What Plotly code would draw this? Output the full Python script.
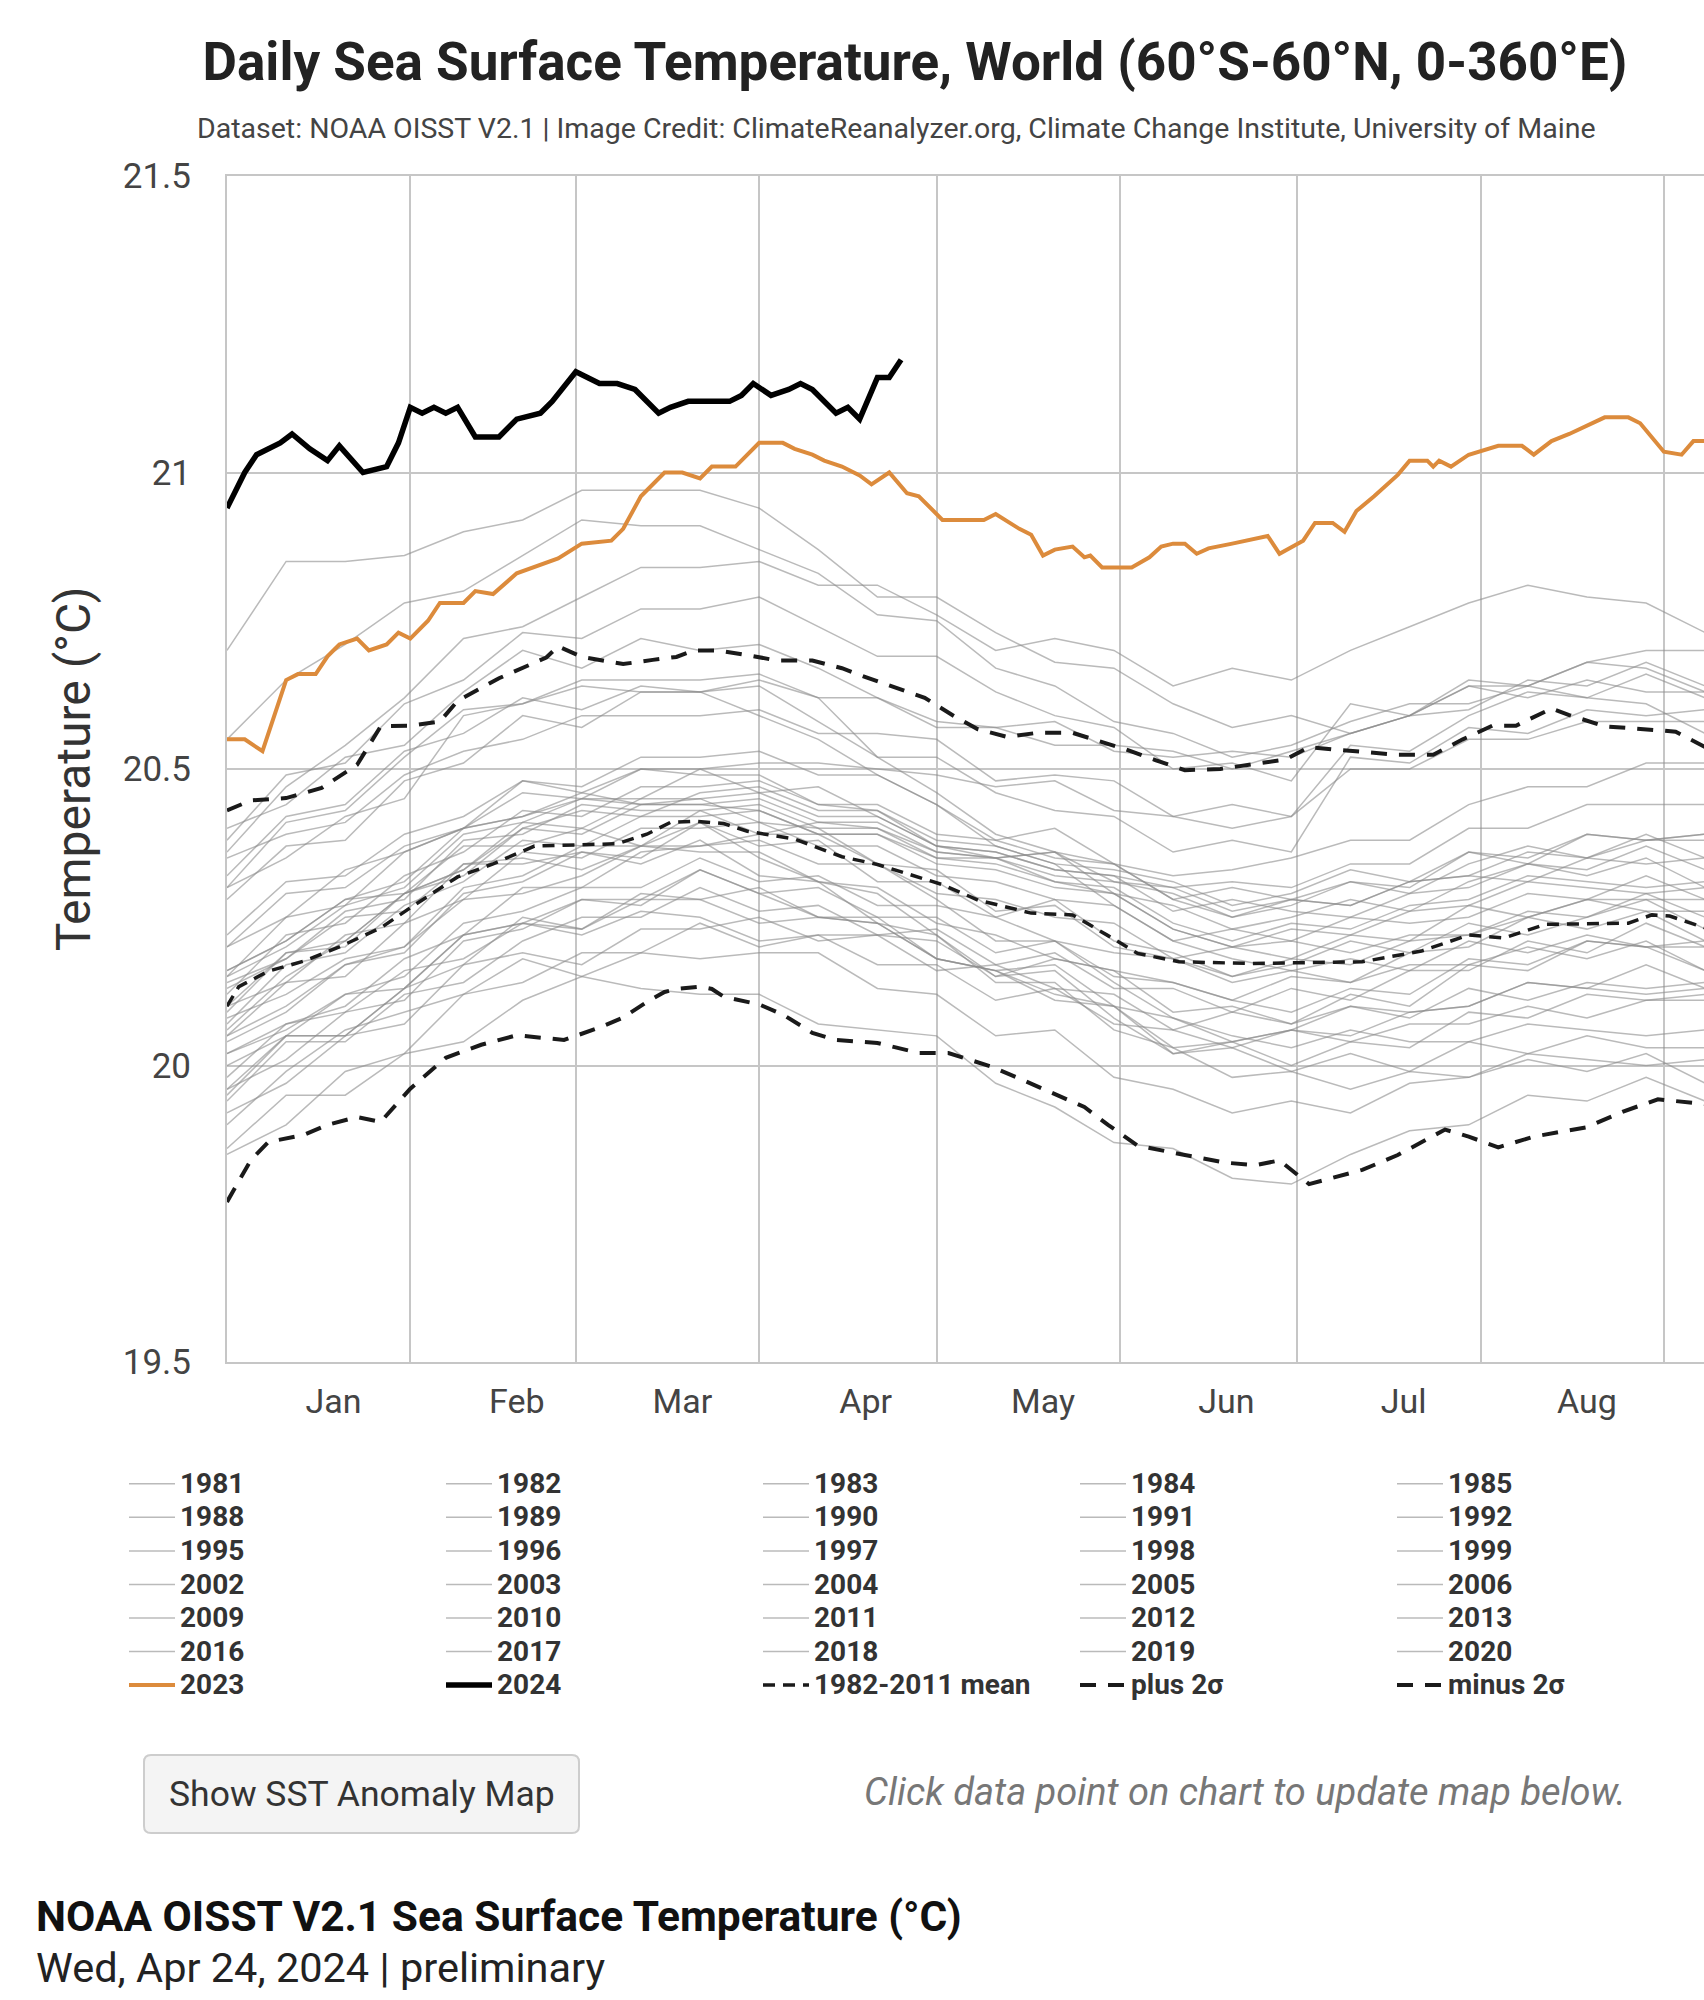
import pandas as pd
import plotly.graph_objects as go

# ---------------- data ----------------
month_names = ["Jan", "Feb", "Mar", "Apr", "May", "Jun", "Jul", "Aug"]

sample_days = [1, 11, 21, 31, 41, 51, 61, 71, 81, 91, 101, 111, 121,
               131, 141, 151, 161, 171, 181, 191, 201, 211, 221, 231, 241, 251]

sst_1981 = []
sst_1982 = [20.02, 20.07, 20.09, 20.16, 20.18, 20.24, 20.22, 20.26, 20.25, 20.21, 20.22, 20.22, 20.21, 20.15, 20.18, 20.16, 20.14, 20.11, 20.15, 20.14, 20.19, 20.20, 20.25, 20.28, 20.28, 20.28]
sst_1983 = [20.20, 20.25, 20.33, 20.36, 20.40, 20.42, 20.46, 20.44, 20.45, 20.41, 20.40, 20.34, 20.28, 20.21, 20.21, 20.14, 20.08, 20.05, 20.03, 20.06, 20.04, 20.04, 20.07, 20.06, 20.05, 20.06]
sst_1984 = [19.90, 19.99, 20.06, 20.09, 20.12, 20.18, 20.15, 20.19, 20.18, 20.19, 20.19, 20.13, 20.12, 20.05, 20.06, 19.98, 19.96, 19.92, 19.94, 19.92, 19.97, 19.98, 20.02, 20.01, 20.00, 20.01]
sst_1985 = [19.86, 19.95, 19.95, 20.02, 20.04, 20.11, 20.15, 20.13, 20.12, 20.12, 20.07, 20.06, 20.05, 19.97, 19.93, 19.87, 19.86, 19.81, 19.80, 19.85, 19.89, 19.90, 19.95, 19.94, 19.98, 19.94]
sst_1986 = [19.92, 19.97, 20.05, 20.07, 20.17, 20.19, 20.17, 20.23, 20.23, 20.25, 20.21, 20.22, 20.16, 20.17, 20.13, 20.12, 20.06, 20.09, 20.07, 20.12, 20.10, 20.17, 20.16, 20.21, 20.20, 20.21]
sst_1987 = [20.06, 20.15, 20.21, 20.29, 20.32, 20.40, 20.43, 20.42, 20.46, 20.47, 20.43, 20.43, 20.38, 20.37, 20.34, 20.33, 20.31, 20.27, 20.29, 20.33, 20.31, 20.36, 20.34, 20.39, 20.38, 20.39]
sst_1988 = [20.16, 20.21, 20.28, 20.29, 20.37, 20.37, 20.40, 20.37, 20.41, 20.35, 20.31, 20.29, 20.22, 20.15, 20.16, 20.08, 20.02, 20.03, 19.99, 20.02, 19.99, 20.04, 20.02, 20.05, 20.03, 20.03]
sst_1989 = [19.85, 19.90, 19.99, 20.02, 20.12, 20.14, 20.19, 20.19, 20.24, 20.20, 20.22, 20.17, 20.17, 20.11, 20.13, 20.07, 20.06, 20.03, 20.06, 20.05, 20.09, 20.10, 20.14, 20.13, 20.17, 20.13]
sst_1990 = [20.04, 20.09, 20.17, 20.19, 20.29, 20.31, 20.36, 20.35, 20.41, 20.37, 20.38, 20.31, 20.31, 20.25, 20.28, 20.21, 20.19, 20.15, 20.17, 20.21, 20.19, 20.24, 20.22, 20.25, 20.28, 20.23]
sst_1991 = [20.08, 20.12, 20.18, 20.20, 20.28, 20.29, 20.32, 20.37, 20.37, 20.38, 20.34, 20.34, 20.29, 20.28, 20.25, 20.24, 20.18, 20.20, 20.18, 20.22, 20.21, 20.27, 20.25, 20.28, 20.26, 20.26]
sst_1992 = [20.13, 20.18, 20.25, 20.26, 20.34, 20.34, 20.36, 20.34, 20.38, 20.32, 20.31, 20.24, 20.22, 20.14, 20.14, 20.06, 20.03, 19.98, 19.99, 19.96, 19.99, 19.98, 20.01, 19.99, 20.02, 19.97]
sst_1993 = [19.96, 20.01, 20.09, 20.11, 20.21, 20.23, 20.28, 20.27, 20.33, 20.29, 20.25, 20.25, 20.18, 20.16, 20.11, 20.10, 20.02, 20.04, 20.00, 20.04, 20.03, 20.09, 20.08, 20.12, 20.11, 20.12]
sst_1994 = [19.94, 20.04, 20.04, 20.12, 20.14, 20.21, 20.25, 20.25, 20.30, 20.26, 20.27, 20.22, 20.23, 20.17, 20.19, 20.13, 20.13, 20.09, 20.13, 20.11, 20.16, 20.16, 20.21, 20.19, 20.24, 20.20]
sst_1995 = [20.10, 20.14, 20.22, 20.24, 20.34, 20.35, 20.33, 20.37, 20.36, 20.36, 20.31, 20.30, 20.24, 20.22, 20.18, 20.16, 20.09, 20.10, 20.07, 20.10, 20.08, 20.13, 20.11, 20.14, 20.13, 20.14]
sst_1996 = [19.96, 20.05, 20.05, 20.13, 20.17, 20.25, 20.23, 20.29, 20.28, 20.30, 20.25, 20.24, 20.18, 20.16, 20.12, 20.10, 20.03, 20.04, 20.06, 20.04, 20.07, 20.07, 20.10, 20.08, 20.11, 20.11]
sst_1997 = [19.98, 20.07, 20.10, 20.18, 20.22, 20.30, 20.30, 20.36, 20.37, 20.39, 20.39, 20.39, 20.35, 20.35, 20.36, 20.34, 20.32, 20.33, 20.35, 20.38, 20.38, 20.44, 20.47, 20.47, 20.51, 20.51]
sst_1998 = [20.30, 20.41, 20.43, 20.52, 20.60, 20.61, 20.64, 20.63, 20.63, 20.64, 20.58, 20.52, 20.46, 20.39, 20.36, 20.29, 20.23, 20.20, 20.21, 20.19, 20.22, 20.22, 20.25, 20.23, 20.26, 20.21]
sst_1999 = [20.02, 20.06, 20.12, 20.13, 20.22, 20.24, 20.23, 20.28, 20.28, 20.24, 20.25, 20.24, 20.18, 20.16, 20.17, 20.10, 20.08, 20.04, 20.06, 20.10, 20.09, 20.10, 20.14, 20.13, 20.12, 20.13]
sst_2000 = [19.95, 20.05, 20.05, 20.13, 20.22, 20.24, 20.28, 20.28, 20.33, 20.29, 20.30, 20.25, 20.25, 20.19, 20.21, 20.15, 20.14, 20.11, 20.09, 20.13, 20.12, 20.18, 20.17, 20.21, 20.20, 20.16]
sst_2001 = [20.05, 20.14, 20.15, 20.24, 20.28, 20.36, 20.35, 20.40, 20.40, 20.41, 20.37, 20.37, 20.32, 20.31, 20.28, 20.27, 20.21, 20.23, 20.21, 20.25, 20.24, 20.25, 20.29, 20.28, 20.32, 20.28]
sst_2002 = [20.12, 20.22, 20.24, 20.32, 20.36, 20.43, 20.42, 20.47, 20.47, 20.48, 20.44, 20.44, 20.39, 20.38, 20.35, 20.34, 20.28, 20.25, 20.28, 20.27, 20.31, 20.32, 20.36, 20.35, 20.39, 20.35]
sst_2003 = [20.22, 20.31, 20.32, 20.39, 20.42, 20.48, 20.46, 20.50, 20.49, 20.49, 20.44, 20.43, 20.37, 20.35, 20.31, 20.29, 20.27, 20.23, 20.25, 20.28, 20.26, 20.31, 20.34, 20.32, 20.35, 20.30]
sst_2004 = [20.14, 20.18, 20.26, 20.28, 20.38, 20.39, 20.44, 20.43, 20.43, 20.44, 20.40, 20.40, 20.35, 20.34, 20.31, 20.30, 20.24, 20.21, 20.24, 20.23, 20.27, 20.28, 20.32, 20.31, 20.30, 20.31]
sst_2005 = [20.15, 20.25, 20.27, 20.36, 20.40, 20.48, 20.47, 20.52, 20.52, 20.53, 20.49, 20.49, 20.44, 20.38, 20.40, 20.34, 20.28, 20.30, 20.28, 20.27, 20.31, 20.32, 20.31, 20.35, 20.34, 20.35]
sst_2006 = [20.10, 20.19, 20.20, 20.29, 20.33, 20.40, 20.39, 20.44, 20.44, 20.45, 20.41, 20.41, 20.36, 20.35, 20.32, 20.31, 20.29, 20.25, 20.27, 20.31, 20.30, 20.36, 20.35, 20.39, 20.38, 20.39]
sst_2007 = [20.20, 20.29, 20.30, 20.37, 20.40, 20.42, 20.45, 20.44, 20.44, 20.43, 20.39, 20.34, 20.33, 20.26, 20.27, 20.20, 20.18, 20.14, 20.16, 20.14, 20.17, 20.17, 20.20, 20.18, 20.21, 20.16]
sst_2008 = [20.00, 20.05, 20.12, 20.15, 20.24, 20.26, 20.30, 20.30, 20.35, 20.31, 20.32, 20.27, 20.27, 20.25, 20.21, 20.19, 20.18, 20.15, 20.18, 20.17, 20.21, 20.22, 20.26, 20.25, 20.29, 20.25]
sst_2009 = [20.05, 20.10, 20.17, 20.20, 20.30, 20.32, 20.37, 20.37, 20.43, 20.39, 20.41, 20.40, 20.36, 20.35, 20.36, 20.31, 20.30, 20.31, 20.30, 20.34, 20.34, 20.40, 20.40, 20.44, 20.44, 20.44]
sst_2010 = [20.32, 20.42, 20.44, 20.53, 20.56, 20.62, 20.60, 20.64, 20.63, 20.59, 20.55, 20.49, 20.44, 20.37, 20.34, 20.27, 20.21, 20.18, 20.16, 20.18, 20.16, 20.21, 20.19, 20.22, 20.20, 20.20]
sst_2011 = [20.07, 20.17, 20.19, 20.27, 20.31, 20.38, 20.37, 20.42, 20.42, 20.43, 20.39, 20.39, 20.34, 20.33, 20.30, 20.29, 20.23, 20.20, 20.23, 20.22, 20.26, 20.27, 20.31, 20.30, 20.29, 20.30]
sst_2012 = [20.09, 20.19, 20.21, 20.29, 20.33, 20.41, 20.40, 20.45, 20.45, 20.46, 20.42, 20.42, 20.37, 20.36, 20.33, 20.32, 20.30, 20.26, 20.28, 20.31, 20.29, 20.34, 20.37, 20.35, 20.38, 20.38]
sst_2013 = [20.15, 20.20, 20.27, 20.30, 20.39, 20.41, 20.45, 20.45, 20.50, 20.46, 20.47, 20.42, 20.37, 20.36, 20.33, 20.32, 20.26, 20.28, 20.26, 20.25, 20.29, 20.30, 20.34, 20.33, 20.37, 20.33]
sst_2014 = [20.16, 20.21, 20.28, 20.31, 20.40, 20.46, 20.45, 20.50, 20.50, 20.51, 20.51, 20.50, 20.49, 20.47, 20.48, 20.43, 20.42, 20.40, 20.42, 20.50, 20.50, 20.55, 20.55, 20.58, 20.58, 20.58]
sst_2015 = [20.28, 20.37, 20.38, 20.48, 20.51, 20.59, 20.57, 20.63, 20.63, 20.65, 20.62, 20.62, 20.58, 20.57, 20.58, 20.53, 20.52, 20.53, 20.52, 20.56, 20.59, 20.64, 20.64, 20.68, 20.70, 20.70]
sst_2016 = [20.70, 20.85, 20.85, 20.86, 20.90, 20.92, 20.97, 20.97, 20.97, 20.94, 20.87, 20.79, 20.79, 20.73, 20.68, 20.67, 20.61, 20.57, 20.59, 20.56, 20.59, 20.60, 20.65, 20.64, 20.68, 20.64]
sst_2017 = [20.38, 20.49, 20.51, 20.61, 20.65, 20.73, 20.72, 20.77, 20.77, 20.79, 20.74, 20.69, 20.69, 20.63, 20.59, 20.57, 20.50, 20.51, 20.48, 20.61, 20.59, 20.64, 20.62, 20.65, 20.63, 20.63]
sst_2018 = [20.30, 20.35, 20.42, 20.45, 20.59, 20.61, 20.65, 20.65, 20.65, 20.66, 20.62, 20.52, 20.52, 20.46, 20.43, 20.42, 20.36, 20.38, 20.36, 20.52, 20.51, 20.57, 20.56, 20.60, 20.59, 20.60]
sst_2019 = [20.36, 20.47, 20.54, 20.62, 20.72, 20.74, 20.79, 20.84, 20.84, 20.85, 20.81, 20.81, 20.76, 20.70, 20.72, 20.70, 20.64, 20.67, 20.65, 20.70, 20.74, 20.78, 20.81, 20.79, 20.78, 20.73]
sst_2020 = [20.55, 20.65, 20.71, 20.78, 20.80, 20.86, 20.92, 20.91, 20.91, 20.87, 20.83, 20.76, 20.75, 20.67, 20.64, 20.58, 20.56, 20.52, 20.54, 20.58, 20.61, 20.61, 20.64, 20.62, 20.61, 20.56]
sst_2021 = [20.35, 20.39, 20.41, 20.49, 20.53, 20.55, 20.59, 20.59, 20.59, 20.60, 20.56, 20.56, 20.55, 20.48, 20.49, 20.48, 20.42, 20.44, 20.42, 20.54, 20.53, 20.59, 20.63, 20.62, 20.66, 20.62]
sst_2022 = [20.40, 20.44, 20.52, 20.54, 20.63, 20.70, 20.67, 20.72, 20.70, 20.71, 20.67, 20.62, 20.57, 20.57, 20.54, 20.54, 20.53, 20.50, 20.53, 20.56, 20.59, 20.65, 20.64, 20.68, 20.67, 20.63]

days_2023 = [1, 4, 7, 9, 11, 13, 16, 18, 20, 23, 25, 28, 30, 32, 35, 37, 41, 43, 46, 50,
             53, 57, 61, 66, 68, 71, 75, 78, 81, 83, 87, 91, 95, 97, 100, 102, 105, 108, 110, 113,
             116, 118, 122, 129, 131, 135, 137, 139, 141, 144, 146, 147, 149, 154, 157, 159, 161, 163, 165, 167,
             171, 177, 179, 183, 185, 188, 190, 192, 195, 199, 201, 204, 205, 206, 208, 211, 216, 220, 222, 225,
             228, 230, 232, 234, 238, 240, 244, 247, 249, 251]
sst_2023 = [20.55, 20.55, 20.53, 20.59, 20.65, 20.66, 20.66, 20.69, 20.71, 20.72, 20.70, 20.71, 20.73, 20.72, 20.75, 20.78, 20.78, 20.80, 20.795, 20.83,
            20.84, 20.855, 20.88, 20.885, 20.905, 20.96, 21.00, 21.00, 20.99, 21.01, 21.01, 21.05, 21.05, 21.04, 21.03, 21.02, 21.01, 20.995, 20.98, 21.00,
            20.965, 20.96, 20.92, 20.92, 20.93, 20.905, 20.895, 20.86, 20.87, 20.875, 20.857, 20.86, 20.84, 20.84, 20.857, 20.875, 20.88, 20.88, 20.863, 20.872,
            20.88, 20.893, 20.863, 20.885, 20.915, 20.915, 20.90, 20.935, 20.96, 20.996, 21.02, 21.02, 21.01, 21.02, 21.01, 21.03, 21.045, 21.045, 21.03, 21.053,
            21.065, 21.074, 21.083, 21.093, 21.093, 21.083, 21.035, 21.03, 21.053, 21.053]

days_2024 = [1, 4, 6, 8, 10, 12, 15, 18, 20, 24, 28, 30, 32, 34, 36, 38, 40, 43, 47, 50,
             54, 56, 60, 64, 67, 70, 74, 76, 79, 86, 88, 90, 93, 96, 98, 100, 102, 104, 106, 108,
             111, 113, 115]
sst_2024 = [20.94, 21.00, 21.03, 21.04, 21.05, 21.065, 21.04, 21.02, 21.045, 21.00, 21.01, 21.05, 21.11, 21.10, 21.11, 21.10, 21.11, 21.06, 21.06, 21.09,
            21.10, 21.12, 21.17, 21.15, 21.15, 21.14, 21.10, 21.11, 21.12, 21.12, 21.13, 21.15, 21.13, 21.14, 21.15, 21.14, 21.12, 21.10, 21.11, 21.09,
            21.16, 21.16, 21.19]

mean_days = [1, 3, 8, 14, 20, 27, 32, 40, 46, 53, 60, 67, 72, 76, 80, 85, 89, 97, 105, 111,
             122, 128, 137, 144, 150, 155, 162, 174, 193, 203, 211, 217, 224, 238, 242, 245, 251]
mean_sst = [20.10, 20.133, 20.159, 20.176, 20.20, 20.232, 20.266, 20.318, 20.34, 20.37, 20.372, 20.374, 20.39, 20.41, 20.412, 20.408, 20.395, 20.382, 20.352, 20.339,
            20.305, 20.279, 20.257, 20.254, 20.219, 20.189, 20.175, 20.172, 20.175, 20.193, 20.22, 20.215, 20.238, 20.24, 20.254, 20.252, 20.232]

plus_days = [1, 5, 11, 17, 23, 27, 32, 37, 40, 47, 55, 57, 61, 68, 73, 77, 80, 84, 89, 94,
             100, 105, 109, 114, 119, 124, 128, 133, 138, 144, 149, 153, 158, 163, 169, 180, 184, 188, 199, 205,
             210, 215, 219, 225, 228, 234, 246, 251]
plus_sst = [20.43, 20.447, 20.451, 20.468, 20.507, 20.572, 20.573, 20.58, 20.615, 20.653, 20.688, 20.707, 20.689, 20.677, 20.684, 20.689, 20.70, 20.70, 20.692, 20.683,
            20.683, 20.67, 20.655, 20.637, 20.62, 20.589, 20.567, 20.554, 20.561, 20.561, 20.546, 20.533, 20.515, 20.498, 20.50, 20.516, 20.537, 20.533, 20.524, 20.524,
            20.55, 20.573, 20.573, 20.602, 20.591, 20.572, 20.563, 20.537]

minus_days = [1, 5, 8, 14, 18, 23, 27, 32, 38, 44, 50, 58, 64, 68, 72, 75, 77, 81, 83, 85,
              91, 95, 100, 104, 111, 118, 123, 130, 135, 141, 146, 150, 155, 163, 170, 175, 179, 184, 188, 193,
              199, 207, 211, 216, 222, 231, 237, 243, 251]
minus_sst = [19.77, 19.84, 19.871, 19.883, 19.90, 19.913, 19.905, 19.961, 20.013, 20.035, 20.051, 20.043, 20.064, 20.081, 20.107, 20.124, 20.129, 20.133, 20.129, 20.116,
             20.103, 20.086, 20.055, 20.043, 20.038, 20.021, 20.021, 19.999, 19.978, 19.952, 19.93, 19.90, 19.865, 19.849, 19.836, 19.832, 19.84, 19.80, 19.81, 19.824,
             19.849, 19.892, 19.88, 19.862, 19.88, 19.896, 19.922, 19.943, 19.935]

gray_years = list(range(1981, 2023))
gray_series = [sst_1981, sst_1982, sst_1983, sst_1984, sst_1985, sst_1986, sst_1987, sst_1988, sst_1989, sst_1990,
               sst_1991, sst_1992, sst_1993, sst_1994, sst_1995, sst_1996, sst_1997, sst_1998, sst_1999, sst_2000,
               sst_2001, sst_2002, sst_2003, sst_2004, sst_2005, sst_2006, sst_2007, sst_2008, sst_2009, sst_2010,
               sst_2011, sst_2012, sst_2013, sst_2014, sst_2015, sst_2016, sst_2017, sst_2018, sst_2019, sst_2020,
               sst_2021, sst_2022]

# ---------------- helpers ----------------
BASE = pd.Timestamp("2023-01-01")


def to_dates(days):
    return [(BASE + pd.Timedelta(days=d - 1)).strftime("%Y-%m-%d") for d in days]


W, H = 1704, 2000
PL, PR, PT, PB = 227, 1704, 176, 1362


def px_x(x):
    return (x - PL) / (PR - PL)


def px_y(y):
    return (PB - y) / (PB - PT)


legend_order = [str(y) for y in gray_years] + ["2023", "2024", "1982-2011 mean", "plus 2σ", "minus 2σ"]
N_COLS_FULL = 7
N_COLS_SHOWN = 5


def legend_slot(name):
    k = legend_order.index(name)
    col = k % N_COLS_FULL
    key = "legend" if col == 0 else "legend%d" % (col + 1)
    return key, col < N_COLS_SHOWN


def legend_label(name):
    # row spacing follows the legend font size; the label itself is drawn a bit larger
    return "<span style='font-size:28px'>%s</span>" % name


FONT = "Roboto, Arial, sans-serif"
GRID = "#c6c6c6"

fig = go.Figure()

for yr, vals in zip(gray_years, gray_series):
    key, show = legend_slot(str(yr))
    fig.add_trace(go.Scatter(
        x=to_dates(sample_days[:len(vals)]) if vals else [None], y=vals if vals else [None],
        mode="lines", name=legend_label(str(yr)),
        line=dict(color="rgba(140,140,140,0.6)", width=1.5),
        legend=key, showlegend=show, hoverinfo="skip"))

for name, days, vals, dash, width in [
        ("1982-2011 mean", mean_days, mean_sst, "12px,8px", 3.5),
        ("plus 2σ", plus_days, plus_sst, "16px,12px", 4),
        ("minus 2σ", minus_days, minus_sst, "16px,12px", 4)]:
    key, show = legend_slot(name)
    fig.add_trace(go.Scatter(
        x=to_dates(days), y=vals, mode="lines", name=legend_label(name),
        line=dict(color="#1a1a1a", width=width, dash=dash),
        legend=key, showlegend=show, hoverinfo="skip"))

key, show = legend_slot("2023")
fig.add_trace(go.Scatter(x=to_dates(days_2023), y=sst_2023, mode="lines", name=legend_label("2023"),
                         line=dict(color="#DC8B3C", width=4), legend=key, showlegend=show,
                         hoverinfo="skip"))
key, show = legend_slot("2024")
fig.add_trace(go.Scatter(x=to_dates(days_2024), y=sst_2024, mode="lines", name=legend_label("2024"),
                         line=dict(color="#000000", width=5.5), legend=key, showlegend=show,
                         hoverinfo="skip"))

# month label positions (centred a little right of mid-month, as in the reference)
month_tick_pos = [(pd.Timestamp(2023, m, 1) + pd.Timedelta(days=18)).strftime("%Y-%m-%d")
                  for m in range(1, len(month_names) + 1)]

fig.update_layout(
    width=W, height=H,
    margin=dict(l=PL, r=W - PR, t=PT, b=H - PB),
    paper_bgcolor="white", plot_bgcolor="white",
    showlegend=True,
    font=dict(family=FONT, color="#444"),
    title=dict(text="Daily Sea Surface Temperature, World (60°S-60°N, 0-360°E)",
               xref="container", yref="container", x=915 / W, y=1 - 61 / H,
               xanchor="center", yanchor="middle",
               font=dict(family=FONT, size=53, color="#222", weight=700)),
    xaxis=dict(type="date", range=["2023-01-01", "2023-09-07 19:00"],
               tickmode="array", tickvals=month_tick_pos, ticktext=month_names,
               showgrid=False, ticks="",
               minor=dict(dtick="M1", tick0="2023-01-01", showgrid=True,
                          gridcolor=GRID, gridwidth=2, ticks=""),
               showline=True, linecolor=GRID, linewidth=2, mirror=True,
               zeroline=False, automargin=False, ticklabelstandoff=8,
               tickfont=dict(family=FONT, size=34, color="#444")),
    yaxis=dict(range=[19.5, 21.5], tick0=19.5, dtick=0.5,
               showgrid=True, gridcolor=GRID, gridwidth=2, ticks="",
               showline=True, linecolor=GRID, linewidth=2, zeroline=False,
               automargin=False, ticklabelstandoff=27,
               tickfont=dict(family=FONT, size=35, color="#444")),
)
fig.update_yaxes(title=dict(text="Temperature (°C)", standoff=17,
                            font=dict(family=FONT, size=48, color="#333")))

for c in range(N_COLS_SHOWN):
    key = "legend" if c == 0 else "legend%d" % (c + 1)
    fig.update_layout({key: dict(
        x=px_x(124 + 317 * c), xanchor="left",
        y=px_y(1462), yanchor="top",
        orientation="v", bgcolor="rgba(0,0,0,0)", borderwidth=0,
        tracegroupgap=0, traceorder="normal", visible=True, itemwidth=46,
        font=dict(family=FONT, size=23.5, color="#333", weight=700))})

# button (rounded rectangle)
bx0, bx1, by0, by1, r = 144, 579, 1755, 1833, 7
path = ("M {a},{b} L {c},{b} Q {d},{b} {d},{e} L {d},{f} Q {d},{g} {c},{g} "
        "L {a},{g} Q {h},{g} {h},{f} L {h},{e} Q {h},{b} {a},{b} Z").format(
    a=px_x(bx0 + r), c=px_x(bx1 - r), d=px_x(bx1), h=px_x(bx0),
    b=px_y(by0), e=px_y(by0 + r), f=px_y(by1 - r), g=px_y(by1))
fig.add_shape(type="path", xref="paper", yref="paper", path=path,
              fillcolor="#f4f4f4", line=dict(color="#cdcdcd", width=2), layer="above")

annotations = [
    dict(text="Dataset: NOAA OISST V2.1 | Image Credit: ClimateReanalyzer.org, Climate Change Institute, University of Maine",
         x=px_x(896), y=px_y(128), xanchor="center", yanchor="middle",
         font=dict(family=FONT, size=28.5, color="#444")),
    dict(text="Show SST Anomaly Map", x=px_x(361.5), y=px_y(1794), xanchor="center", yanchor="middle",
         font=dict(family=FONT, size=35.5, color="#333")),
    dict(text="Click data point on chart to update map below.", x=px_x(1244.5), y=px_y(1792),
         xanchor="center", yanchor="middle",
         font=dict(family=FONT, size=38, color="#777", style="italic")),
    dict(text="NOAA OISST V2.1 Sea Surface Temperature (°C)", x=px_x(34), y=px_y(1917),
         xanchor="left", yanchor="middle",
         font=dict(family=FONT, size=42.5, color="#111", weight=700)),
    dict(text="Wed, Apr 24, 2024 | preliminary", x=px_x(34), y=px_y(1967),
         xanchor="left", yanchor="middle",
         font=dict(family=FONT, size=41.5, color="#222")),
]
for a in annotations:
    fig.add_annotation(xref="paper", yref="paper", showarrow=False, **a)

fig.write_html("out.html")
